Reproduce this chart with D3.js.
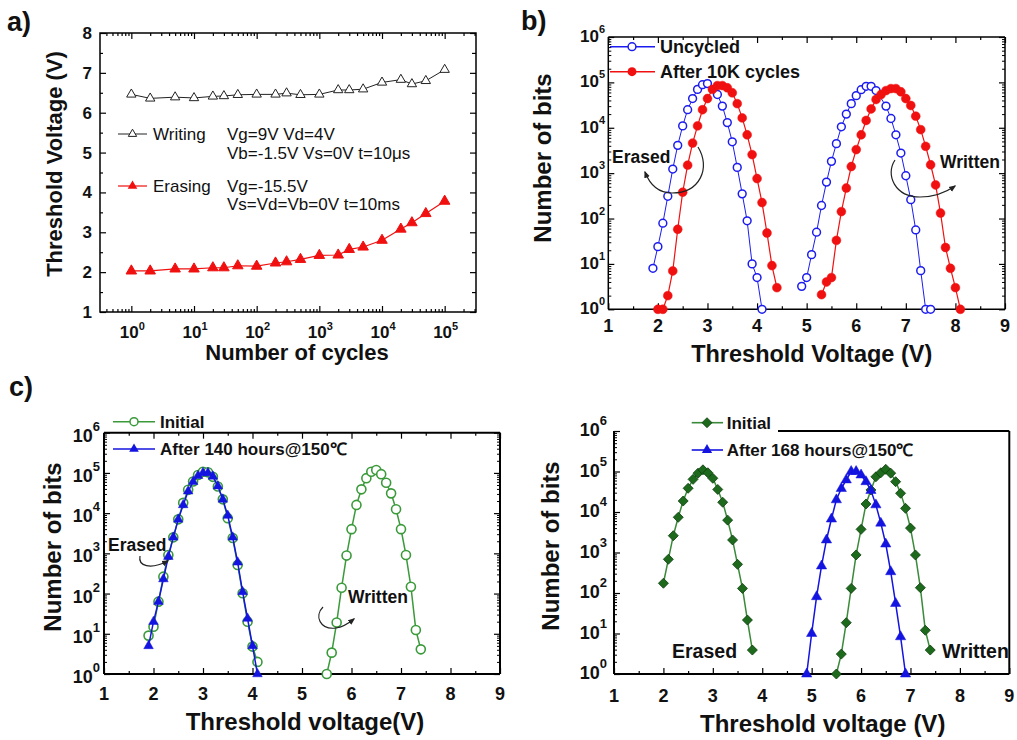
<!DOCTYPE html>
<html><head><meta charset="utf-8">
<script src="https://cdn.jsdelivr.net/npm/d3@7"></script>
<style>body{margin:0;background:#fff;} svg{display:block;font-family:"Liberation Sans",Arial,Helvetica,sans-serif;}</style>
</head><body>
<svg id="chart" width="1017" height="740"></svg>
<script>
// ---------- Panel a data ----------
const aCycles = [1,2,5,10,20,30,50,100,200,300,500,1000,2000,3000,5000,10000,20000,30000,50000,100000];
const aWriting = [6.46,6.36,6.39,6.37,6.41,6.42,6.45,6.46,6.46,6.49,6.45,6.46,6.57,6.57,6.59,6.76,6.83,6.72,6.80,7.08];
const aErasing = [2.03,2.03,2.08,2.08,2.11,2.11,2.16,2.15,2.23,2.26,2.32,2.42,2.43,2.57,2.63,2.80,3.08,3.24,3.47,3.78];
const aYTicks = [1,2,3,4,5,6,7,8];
const aXTickExp = [0,1,2,3,4,5];

// ---------- Panel b data ----------
const bUncErasedV = [1.9,2.0,2.1,2.2,2.3,2.4,2.5,2.6,2.7,2.8,2.9,3.0,3.2,3.3,3.4,3.5,3.6,3.7,3.8,3.9,4.0,4.1];
const bUncErasedN = [8,24,79,310,1230,4100,11000,25000,44000,70000,89000,94000,54000,30000,13000,4900,1340,350,89,10,5,1];
const bCycErasedV = [2.0,2.1,2.2,2.3,2.4,2.5,2.6,2.7,2.8,2.9,3.0,3.1,3.2,3.3,3.4,3.5,3.6,3.7,3.8,3.9,4.0,4.1,4.2,4.3,4.4];
const bCycErasedN = [1,1,2,7,58,380,1500,4600,11000,25000,44000,70000,85000,85000,76000,59000,34000,16500,7000,2560,760,225,48,9.2,3];
const bUncWrittenV = [4.9,5.0,5.1,5.2,5.3,5.4,5.5,5.6,5.7,5.8,5.9,6.0,6.1,6.2,6.3,6.4,6.6,6.7,6.8,6.9,7.0,7.1,7.2,7.3,7.4,7.5];
const bUncWrittenN = [3.2,5,16,50,194,635,1820,4470,10500,20000,34000,51000,69000,82000,82000,66000,30000,16000,7000,2770,875,260,56,7.1,1,1];
const bCycWrittenV = [5.3,5.4,5.5,5.6,5.7,5.8,5.9,6.0,6.1,6.2,6.3,6.4,6.5,6.6,6.7,6.8,6.9,7.0,7.1,7.2,7.3,7.4,7.5,7.6,7.7,7.8,7.9,8.0,8.1];
const bCycWrittenN = [2.1,4,5,33,142,470,1400,3300,7000,14500,26000,42000,54000,66000,73000,73000,62000,44000,31000,18000,9100,3900,1530,550,132,23,8,3,1];

// ---------- Panel c (left) data ----------
const cLInitErasedV = [1.9,2.0,2.1,2.2,2.3,2.4,2.5,2.6,2.7,2.8,2.9,3.0,3.1,3.2,3.3,3.4,3.5,3.6,3.7,3.8,3.9,4.0,4.1];
const cLInitErasedN = [9,15,63,263,910,2500,7000,18000,38000,61000,89000,107000,104000,80000,46000,22000,7500,2400,515,102,20,4.8,2];
const cLAfterErasedV = [1.9,2.0,2.1,2.2,2.3,2.4,2.5,2.6,2.7,2.8,2.9,3.0,3.1,3.2,3.3,3.4,3.5,3.6,3.7,3.8,3.9,4.0,4.1];
const cLAfterErasedN = [5,20,63,230,830,2500,7000,16000,35000,60000,85000,100000,100000,82000,47000,22000,8700,2500,600,110,24,5,1];
const cLInitWrittenV = [5.5,5.6,5.7,5.8,5.9,6.0,6.1,6.2,6.3,6.4,6.5,6.6,6.7,6.8,6.9,7.0,7.1,7.2,7.3,7.4];
const cLInitWrittenN = [1,3.4,19,140,880,4000,16000,39000,74000,107000,118000,93000,57000,31000,12500,4000,910,148,12.4,4.1];

// ---------- Panel c (right) data ----------
const cRInitErasedV = [2.0,2.1,2.2,2.3,2.4,2.5,2.6,2.7,2.8,2.9,3.0,3.1,3.2,3.3,3.4,3.5,3.6,3.7,3.8];
const cRInitErasedN = [174,680,2600,7400,18700,38500,64000,91000,110000,93000,68000,36000,17400,6300,2040,510,130,21.5,3.9];
const cRAfterWrittenV = [4.9,5.0,5.1,5.2,5.3,5.4,5.5,5.6,5.7,5.8,5.9,6.0,6.1,6.2,6.3,6.4,6.5,6.6,6.7,6.8,6.9];
const cRAfterWrittenN = [1,10,81,465,2040,6700,20000,38000,62000,100000,100000,82000,56000,34000,15000,5300,1620,335,55,8.3,1];
const cRInitWrittenV = [5.5,5.6,5.7,5.8,5.9,6.0,6.1,6.2,6.3,6.4,6.5,6.6,6.7,6.8,6.9,7.0,7.1,7.2,7.3,7.4];
const cRInitWrittenN = [1,3.1,18.5,130,870,3730,15800,35000,74000,93000,113000,91000,56000,29000,12300,4000,870,135,12,3.9];

const vTicks = [1,2,3,4,5,6,7,8,9];
const bitExp = [0,1,2,3,4,5,6];

// ---------- helpers ----------
const svg = d3.select("#chart");
const defs = svg.append("defs");
defs.append("marker").attr("id","arr").attr("viewBox","0 0 10 10").attr("refX",8).attr("refY",5)
  .attr("markerWidth",6).attr("markerHeight",6).attr("orient","auto")
  .append("path").attr("d","M0,1 L10,5 L0,9 Z").attr("fill","#222");

const triShape = s => d3.symbol().type(d3.symbolTriangle).size(s)();
const circShape = s => d3.symbol().type(d3.symbolCircle).size(s)();
const diamShape = r => `M0,${-r}L${r},0L0,${r}L${-r},0Z`;

function tickAxis(g, axisFn, scale, values, len, transform, sw) {
  const a = g.append("g").attr("transform", transform)
    .call(axisFn(scale).tickValues(values).tickSizeInner(-len).tickSizeOuter(0).tickFormat(""));
  a.select(".domain").remove();
  a.selectAll("line").attr("stroke","#000").attr("stroke-width", sw || 1.2);
}
function series(g, x, y, xs, ys, o) {
  const pts = xs.map((v,i) => [v, ys[i]]);
  g.append("path").datum(pts).attr("fill","none").attr("stroke",o.line).attr("stroke-width",o.lw || 1.3)
    .attr("d", d3.line().x(d => x(d[0])).y(d => y(d[1])));
  g.append("g").selectAll("path").data(pts).join("path")
    .attr("transform", d => `translate(${x(d[0])},${y(d[1])})`)
    .attr("d", o.shape).attr("fill", o.fill).attr("stroke", o.stroke).attr("stroke-width", o.sw || 1.3);
}
function txt(g, x, y, s, size, weight, anchor) {
  return g.append("text").attr("x",x).attr("y",y).attr("font-size",size)
    .attr("font-weight",weight || "bold").attr("text-anchor",anchor || "start").attr("fill","#111").text(s);
}
function supTxt(g, x, y, base, exp, size, supSize, rise, anchor) {
  const t = g.append("text").attr("x",x).attr("y",y).attr("font-size",size).attr("font-weight","bold")
    .attr("text-anchor",anchor).attr("fill","#111");
  t.append("tspan").text(base);
  t.append("tspan").attr("dy",-rise).attr("font-size",supSize).text(exp);
}
function vTitle(g, x, y, s, size) {
  g.append("text").attr("transform",`translate(${x},${y}) rotate(-90)`).attr("text-anchor","middle")
    .attr("font-size",size).attr("font-weight","bold").attr("fill","#111").text(s);
}
function minorLog(lo, hi) {
  const out = [];
  for (let e = lo; e < hi; e++) for (let m = 2; m <= 9; m++) out.push(m * Math.pow(10, e));
  return out;
}

// ================= Panel a =================
{
  const g = svg.append("g");
  const x = d3.scaleLog().domain([Math.pow(10,-0.5), Math.pow(10,5.5)]).range([100,476]);
  const y = d3.scaleLinear().domain([1,8]).range([312,33]);
  const majX = aXTickExp.map(e => Math.pow(10,e));
  const minX = minorLog(-1,6).filter(v => v > x.domain()[0] && v < x.domain()[1]);
  const halfY = d3.range(1.5, 8, 1);
  tickAxis(g, d3.axisBottom, x, majX, 6, "translate(0,312)");
  tickAxis(g, d3.axisBottom, x, minX, 3, "translate(0,312)");
  tickAxis(g, d3.axisTop, x, majX, 6, "translate(0,33)");
  tickAxis(g, d3.axisTop, x, minX, 3, "translate(0,33)");
  tickAxis(g, d3.axisLeft, y, aYTicks, 6, "translate(100,0)");
  tickAxis(g, d3.axisLeft, y, halfY, 3, "translate(100,0)");
  tickAxis(g, d3.axisRight, y, aYTicks, 6, "translate(476,0)");
  tickAxis(g, d3.axisRight, y, halfY, 4, "translate(476,0)");
  g.append("rect").attr("x",100).attr("y",33).attr("width",376).attr("height",279)
    .attr("fill","none").attr("stroke","#000").attr("stroke-width",1.5);
  aYTicks.forEach(v => txt(g, 92, y(v)+6, String(v), 17, "bold", "end"));
  aXTickExp.forEach(e => supTxt(g, x(Math.pow(10,e))+1, 338, "10", String(e), 17, 11, 8, "middle"));
  series(g, x, y, aCycles, aWriting, {line:"#222", lw:1, shape:triShape(38), fill:"#fff", stroke:"#222", sw:1});
  series(g, x, y, aCycles, aErasing, {line:"#f01010", lw:1.2, shape:triShape(48), fill:"#f01010", stroke:"#f01010", sw:1});
  // legend
  g.append("line").attr("x1",118).attr("x2",147).attr("y1",134).attr("y2",134).attr("stroke","#222");
  g.append("path").attr("transform","translate(132.5,134)").attr("d",triShape(30)).attr("fill","#fff").attr("stroke","#222");
  txt(g, 153, 140, "Writing", 17, "normal");
  txt(g, 227, 140, "Vg=9V Vd=4V", 17, "normal");
  txt(g, 227, 159, "Vb=-1.5V Vs=0V t=10μs", 17, "normal");
  g.append("line").attr("x1",118).attr("x2",147).attr("y1",186).attr("y2",186).attr("stroke","#f01010").attr("stroke-width",1.2);
  g.append("path").attr("transform","translate(132.5,186)").attr("d",triShape(40)).attr("fill","#f01010");
  txt(g, 153, 192, "Erasing", 17, "normal");
  txt(g, 227, 192, "Vg=-15.5V", 17, "normal");
  txt(g, 227, 210, "Vs=Vd=Vb=0V t=10ms", 17, "normal");
  vTitle(g, 62, 164, "Threshold Voltage (V)", 22);
  txt(g, 297, 360, "Number of cycles", 22, "bold", "middle");
  txt(g, 7, 31, "a)", 27, "bold");
}

// ================= generic bits panel axes =================
function bitsAxes(g, x0, x1, y0, y1, o) {
  const x = d3.scaleLinear().domain([1,9]).range([x0,x1]);
  const y = d3.scaleLog().domain([1,1e6]).range([y1,y0]);
  const majY = bitExp.map(e => Math.pow(10,e));
  const minY = minorLog(0,6);
  const halfX = d3.range(1.5, 9, 1);
  tickAxis(g, d3.axisBottom, x, vTicks, 6, `translate(0,${y1})`);
  tickAxis(g, d3.axisBottom, x, halfX, 3, `translate(0,${y1})`);
  if (o.top) { tickAxis(g, d3.axisTop, x, vTicks, 6, `translate(0,${y0})`); tickAxis(g, d3.axisTop, x, halfX, 3, `translate(0,${y0})`); }
  tickAxis(g, d3.axisLeft, y, majY, 6, `translate(${x0},0)`);
  tickAxis(g, d3.axisLeft, y, minY, 3, `translate(${x0},0)`, 1);
  if (o.right) { tickAxis(g, d3.axisRight, y, majY, 6, `translate(${x1},0)`); tickAxis(g, d3.axisRight, y, minY, 3, `translate(${x1},0)`, 1); }
  const sw = o.sw || 1.5;
  const line = (a,b,c,d) => g.append("line").attr("x1",a).attr("y1",b).attr("x2",c).attr("y2",d).attr("stroke","#000").attr("stroke-width",sw);
  line(x0,y1,x1,y1); line(x0,y0,x0,y1); line(x1,y0,x1,y1); line(o.topStart || x0, y0, x1, y0);
  vTicks.forEach(v => txt(g, x(v), o.xlabY, String(v), o.xls, "bold", "middle"));
  bitExp.forEach(e => supTxt(g, o.ylabX, y(Math.pow(10,e)) + o.ylabDy, "10", String(e), o.yls, o.ysup, o.rise, "end"));
  return {x, y};
}

// ================= Panel b =================
{
  const g = svg.append("g");
  const {x, y} = bitsAxes(g, 608.3, 1005, 37, 309.3, {top:true, right:true, xlabY:332, xls:18, ylabX:605, ylabDy:5, yls:17, ysup:11, rise:9});
  const blue = "#1c1cf0", red = "#f01010";
  series(g, x, y, bUncErasedV, bUncErasedN, {line:blue, lw:1, shape:circShape(48), fill:"#fff", stroke:blue, sw:1.5});
  series(g, x, y, bUncWrittenV, bUncWrittenN, {line:blue, lw:1, shape:circShape(48), fill:"#fff", stroke:blue, sw:1.5});
  series(g, x, y, bCycErasedV, bCycErasedN, {line:red, lw:1.2, shape:circShape(62), fill:red, stroke:red, sw:0.5});
  series(g, x, y, bCycWrittenV, bCycWrittenN, {line:red, lw:1.2, shape:circShape(62), fill:red, stroke:red, sw:0.5});
  // legend
  g.append("line").attr("x1",610).attr("x2",655).attr("y1",46.7).attr("y2",46.7).attr("stroke",blue).attr("stroke-width",1.5);
  g.append("path").attr("transform","translate(632,46.7)").attr("d",circShape(48)).attr("fill","#fff").attr("stroke",blue).attr("stroke-width",1.5);
  txt(g, 660, 53, "Uncycled", 18);
  g.append("line").attr("x1",610).attr("x2",655).attr("y1",71.7).attr("y2",71.7).attr("stroke",red).attr("stroke-width",1.5);
  g.append("path").attr("transform","translate(632,71.7)").attr("d",circShape(62)).attr("fill",red);
  txt(g, 660, 78, "After 10K cycles", 18);
  // annotations
  txt(g, 612, 163, "Erased", 17.5);
  txt(g, 940, 168, "Written", 17.5);
  g.append("path").attr("d","M698,147 C711,168 700,193 672,193 C658,193 650,185 645,172")
    .attr("fill","none").attr("stroke","#222").attr("stroke-width",1.2).attr("marker-end","url(#arr)");
  g.append("path").attr("d","M895,160 C885,175 895,197 920,197 C933,197 945,193 955,186")
    .attr("fill","none").attr("stroke","#222").attr("stroke-width",1.2).attr("marker-end","url(#arr)");
  vTitle(g, 551, 158, "Number of bits", 24);
  txt(g, 811.7, 362, "Threshold Voltage (V)", 23.5, "bold", "middle");
  txt(g, 521, 30, "b)", 27, "bold");
}

// ================= Panel c left =================
{
  const g = svg.append("g");
  const {x, y} = bitsAxes(g, 104, 500, 432.7, 674, {top:true, right:true, sw:2, xlabY:700, xls:18, ylabX:100, ylabDy:9, yls:18, ysup:13, rise:11});
  const green = "#3a9a3a", blue = "#1414e0";
  series(g, x, y, cLInitErasedV, cLInitErasedN, {line:green, lw:1.5, shape:circShape(64), fill:"#fff", stroke:green, sw:1.6});
  series(g, x, y, cLInitWrittenV, cLInitWrittenN, {line:green, lw:1.5, shape:circShape(64), fill:"#fff", stroke:green, sw:1.6});
  series(g, x, y, cLAfterErasedV, cLAfterErasedN, {line:blue, lw:1.5, shape:triShape(40), fill:blue, stroke:blue, sw:0.5});
  // legend
  g.append("line").attr("x1",113).attr("x2",155).attr("y1",421.7).attr("y2",421.7).attr("stroke",green).attr("stroke-width",1.6);
  g.append("path").attr("transform","translate(134,421.7)").attr("d",circShape(50)).attr("fill","#fff").attr("stroke",green).attr("stroke-width",1.5);
  txt(g, 160, 427.5, "Initial", 17);
  g.append("line").attr("x1",113).attr("x2",155).attr("y1",449).attr("y2",449).attr("stroke",blue).attr("stroke-width",1.6);
  g.append("path").attr("transform","translate(134,449)").attr("d",triShape(40)).attr("fill",blue);
  txt(g, 160, 455, "After 140 hours@150℃", 17);
  // annotations
  txt(g, 108, 551, "Erased", 17.5);
  txt(g, 348, 603, "Written", 17.5);
  g.append("path").attr("d","M140,556 C138,566 150,570 168,561")
    .attr("fill","none").attr("stroke","#222").attr("stroke-width",1.2).attr("marker-end","url(#arr)");
  g.append("path").attr("d","M323,607 C314,616 320,630 336,628 C344,627 349,623 354,619")
    .attr("fill","none").attr("stroke","#222").attr("stroke-width",1.2).attr("marker-end","url(#arr)");
  vTitle(g, 61, 547, "Number of bits", 24);
  txt(g, 305, 730, "Threshold voltage(V)", 24, "bold", "middle");
  txt(g, 9, 396, "c)", 27, "bold");
}

// ================= Panel c right =================
{
  const g = svg.append("g");
  const {x, y} = bitsAxes(g, 614, 1009.3, 431, 674, {top:false, right:false, sw:2, topStart:778, xlabY:702, xls:18, ylabX:607, ylabDy:5, yls:18, ysup:13, rise:11});
  const green = "#3a8a3a", dk = "#1d6a1d", blue = "#1414e0";
  series(g, x, y, cRInitErasedV, cRInitErasedN, {line:green, lw:1.5, shape:diamShape(5), fill:dk, stroke:"#0c3c0c", sw:0.8});
  series(g, x, y, cRInitWrittenV, cRInitWrittenN, {line:green, lw:1.5, shape:diamShape(5), fill:dk, stroke:"#0c3c0c", sw:0.8});
  series(g, x, y, cRAfterWrittenV, cRAfterWrittenN, {line:blue, lw:1.5, shape:triShape(46), fill:blue, stroke:blue, sw:0.5});
  // legend
  g.append("line").attr("x1",691.7).attr("x2",723).attr("y1",422.7).attr("y2",422.7).attr("stroke",green).attr("stroke-width",1.6);
  g.append("path").attr("transform","translate(707,422.7)").attr("d",diamShape(5)).attr("fill",dk).attr("stroke","#0c3c0c").attr("stroke-width",0.8);
  txt(g, 726.7, 429, "Initial", 17);
  g.append("line").attr("x1",691.7).attr("x2",723).attr("y1",450).attr("y2",450).attr("stroke",blue).attr("stroke-width",1.6);
  g.append("path").attr("transform","translate(707,450)").attr("d",triShape(46)).attr("fill",blue);
  txt(g, 726.7, 456, "After 168 hours@150℃", 17);
  txt(g, 672, 658, "Erased", 19.5);
  txt(g, 942, 658, "Written", 19.5);
  vTitle(g, 559, 546, "Number of bits", 24);
  txt(g, 822.7, 732, "Threshold voltage (V)", 24, "bold", "middle");
}
</script>
</body></html>
